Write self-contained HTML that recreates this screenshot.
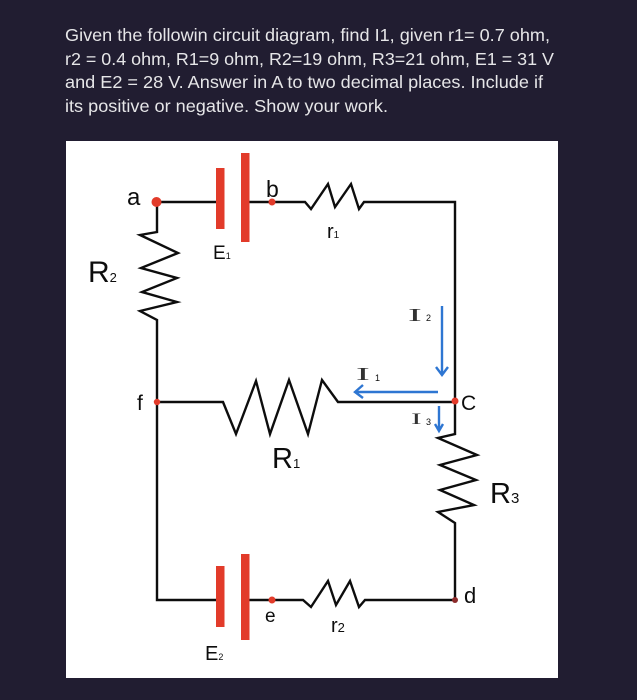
<!DOCTYPE html>
<html>
<head>
<meta charset="utf-8">
<style>
html,body{margin:0;padding:0;background:#211d31;width:637px;height:700px;overflow:hidden}
svg{display:block}
.t{font-family:"Liberation Sans",sans-serif;font-size:17.5px;fill:#e6e6e8}
.h{font-family:"Liberation Sans",sans-serif;fill:#111}
.s{font-family:"Liberation Serif",serif;fill:#333}
</style>
</head>
<body>
<svg width="637" height="700" viewBox="0 0 637 700" xmlns="http://www.w3.org/2000/svg">
<defs><filter id="b" x="-5%" y="-5%" width="110%" height="110%"><feGaussianBlur stdDeviation="0.3"/></filter></defs>
<rect width="637" height="700" fill="#211d31"/>
<text class="t" x="65" y="41" textLength="485" lengthAdjust="spacingAndGlyphs">Given the followin circuit diagram, find I1, given r1= 0.7 ohm,</text>
<text class="t" x="65" y="65" textLength="489" lengthAdjust="spacingAndGlyphs">r2 = 0.4 ohm, R1=9 ohm, R2=19 ohm, R3=21 ohm, E1 = 31 V</text>
<text class="t" x="65" y="88" textLength="478" lengthAdjust="spacingAndGlyphs">and E2 = 28 V. Answer in A to two decimal places. Include if</text>
<text class="t" x="65" y="112" textLength="323" lengthAdjust="spacingAndGlyphs">its positive or negative. Show your work.</text>

<rect x="66" y="141" width="492" height="537" fill="#fff"/>

<g filter="url(#b)">
<g fill="none" stroke="#111" stroke-width="2.400" stroke-linejoin="miter">
<path d="M156 202H216M249 202H305L311 209L328 184L335 207L351 184L359 209L364 202H455V434L438 438L477 455L440 465L476 480L440 490L474 505L438 512L455 523V600H365L359 607L350 581L336 605L328 581L311 607L303 600H249M216 600H157V320L140 311L177 302L142 292L177 278L141 268L178 253L140 235L157 232V202"/>
<path d="M157 402H223L236 434L256 381L270 434L289 380L308 434L322 380L338 402H455"/>
</g>

<g fill="#e23a2c">
<rect x="216" y="168" width="8.500" height="61"/>
<rect x="241" y="153" width="8.500" height="89"/>
<rect x="216" y="566" width="8.500" height="61"/>
<rect x="241" y="554" width="8.500" height="86"/>
<circle cx="156.500" cy="202" r="5"/>
<circle cx="272" cy="202" r="3.500"/>
<circle cx="272" cy="600" r="3.500"/>
<circle cx="157" cy="402" r="3.200"/>
<circle cx="455" cy="401" r="3.500"/>
<circle cx="455" cy="600" r="3" fill="#8c2a2a"/>
</g>

<g fill="none" stroke="#2f76d2" stroke-width="2.400">
<path d="M442 306V374M436 367L442 375L448 367"/>
<path d="M438 392H356M363 385L355 392L363 398"/>
<path d="M439 406V429M435 424L439 431L443 424"/>
</g>

<text class="h" x="127" y="205" font-size="24">a</text>
<text class="h" x="266" y="197" font-size="23">b</text>
<text class="h" x="213" y="259" font-size="19">E<tspan font-size="9">1</tspan></text>
<text class="h" x="88" y="282" font-size="30">R<tspan font-size="13">2</tspan></text>
<text class="h" x="327" y="238" font-size="20">r<tspan font-size="10">1</tspan></text>
<text class="s" transform="translate(408 321) scale(2.300 1)" font-size="18">I</text>
<text class="h" x="426" y="321" font-size="9">2</text>
<text class="s" transform="translate(356 380) scale(2.300 1)" font-size="18">I</text>
<text class="h" x="375" y="381" font-size="9">1</text>
<text class="s" transform="translate(411 424) scale(2 1)" font-size="16">I</text>
<text class="h" x="426" y="425" font-size="9">3</text>
<text class="h" x="461" y="410" font-size="21">C</text>
<text class="h" x="137" y="410" font-size="21">f</text>
<text class="h" x="272" y="468" font-size="29">R<tspan font-size="13">1</tspan></text>
<text class="h" x="490" y="503" font-size="29">R<tspan font-size="15">3</tspan></text>
<text class="h" x="265" y="622" font-size="19">e</text>
<text class="h" x="331" y="632" font-size="20">r<tspan font-size="13">2</tspan></text>
<text class="h" x="464" y="603" font-size="22">d</text>
<text class="h" x="205" y="660" font-size="20">E<tspan font-size="9">2</tspan></text>
</g>
</svg>
</body>
</html>
